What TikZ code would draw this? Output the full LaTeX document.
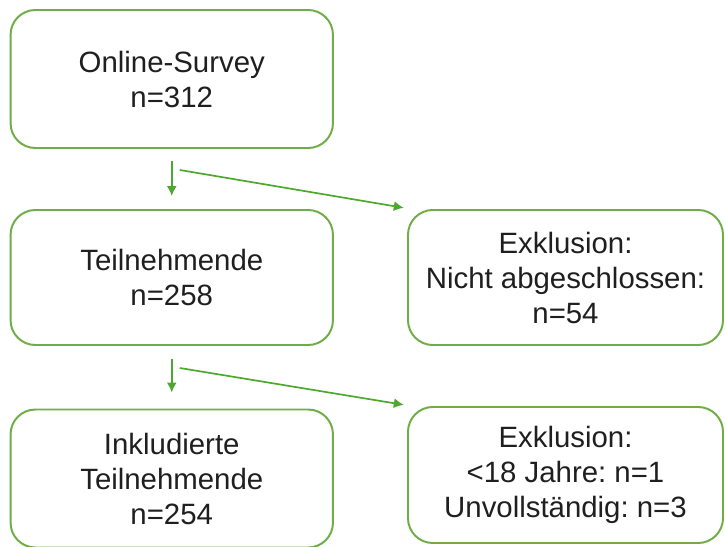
\documentclass[tikz,border=0pt]{standalone}
\usepackage{fontspec}
\setmainfont{Liberation Sans}
\usepackage{tikz}
\usetikzlibrary{arrows.meta}
\frenchspacing
\definecolor{boxgreen}{HTML}{70AD47}
\definecolor{arrowgreen}{HTML}{4EA72E}
\tikzstyle{box}=[draw=boxgreen, line width=1.4pt, rounded corners=0.62cm, align=center, text=black!88, font=\fontsize{20.9}{24.9}\selectfont, inner sep=0pt]
\tikzstyle{arrow}=[draw=arrowgreen, line width=1.2pt, >={Latex[length=2.5mm, width=2.5mm]}, ->]

\begin{document}
\begin{tikzpicture}
	\useasboundingbox (0, 0) rectangle (18.125, -13.65);
	\begin{scope}
		\node (survey) at (4.294, -1.975)[box, minimum width=8.06cm, minimum height=3.45cm] {Online-Survey\\n=312};
		\node (teil) at (4.294, -6.9375)[box, minimum width=8.06cm, minimum height=3.375cm] {Teilnehmende\\n=258};
		\node (inkl) at (4.294, -11.9625)[box, minimum width=8.06cm, minimum height=3.45cm] {Inkludierte\\Teilnehmende\\n=254};
		\node (exkl1) at (14.1375, -6.9375)[box, minimum width=7.875cm, minimum height=3.375cm] {Exklusion:\\Nicht abgeschlossen:\\n=54};
		\node (exkl2) at (14.1375, -11.875)[box, minimum width=7.875cm, minimum height=3.4cm] {Exklusion:\\<18 Jahre: n=1\\Unvollständig: n=3};
	\end{scope}
	\begin{scope}
		\draw [arrow] ([yshift=-0.3cm]survey.south) -- ([yshift=0.325cm]teil.north);
		\draw [arrow] ([shift={(0.2, -0.525)}]survey.south) -- ([shift={(-0.08, 0.03)}]exkl1.north west);
		\draw [arrow] ([yshift=-0.325cm]teil.south) -- ([yshift=0.4cm]inkl.north);
		\draw [arrow] ([shift={(0.2, -0.55)}]teil.south) -- ([shift={(-0.08, 0.03)}]exkl2.north west);
	\end{scope}
\end{tikzpicture}
\end{document}
